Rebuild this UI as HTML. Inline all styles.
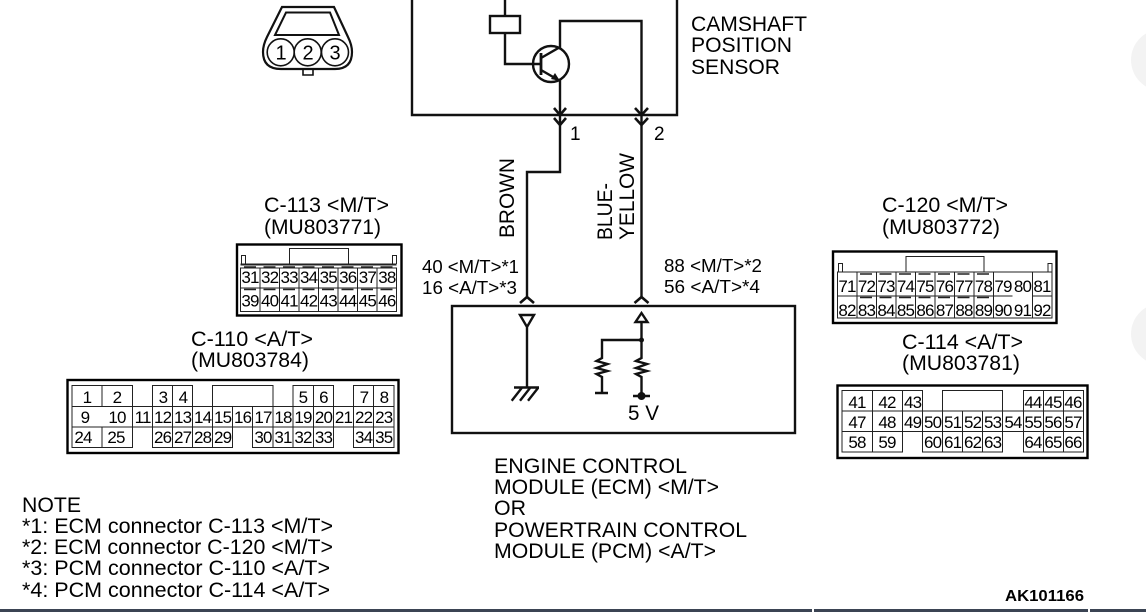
<!DOCTYPE html>
<html><head><meta charset="utf-8"><style>
html,body{margin:0;padding:0;background:#fff}
svg{display:block;position:absolute;left:0;top:0}
text{font-family:"Liberation Sans",sans-serif;fill:#000}
.c text{font-size:17px;text-anchor:middle;letter-spacing:-.8px}
.l{font-size:21px}
.m{font-size:18px}
</style></head><body style="width:1146px;height:612px;overflow:hidden;position:relative">
<svg width="1146" height="612" viewBox="0 0 1146 612">
<rect width="1146" height="612" fill="#fff"/>
<circle cx="1162" cy="60" r="31" fill="#f3f3f3"/>
<circle cx="1162" cy="334" r="31" fill="#f3f3f3"/>
<rect x="0" y="609" width="812" height="3" fill="#3b4453"/>
<rect x="814" y="609" width="274" height="3" fill="#3b4453"/>
<rect x="1090" y="609" width="56" height="3" fill="#3b4453"/>

<!-- sensor connector -->
<g fill="none" stroke="#111" stroke-width="1.6">
<path stroke-width="2.200" d="M282 7H334L348 37Q352 45 352 52Q352 69 335 69H281Q263 69 263 52Q263 45 267 37Z"/>
<path stroke-width="2" d="M286 12.500H330L339 35H275Z"/>
<circle cx="280.700" cy="52.300" r="13.500"/><circle cx="307.700" cy="52.300" r="13.500"/><circle cx="335" cy="52.300" r="13.500"/>
<path d="M303 69V75H313V69"/>
</g>
<g font-size="20" text-anchor="middle"><text x="281" y="59.500">1</text><text x="308" y="59.500">2</text><text x="335" y="59.500">3</text></g>

<!-- sensor box -->
<g fill="none" stroke="#111" stroke-width="2.400">
<path d="M412 0V115H677V0"/>
<rect x="490" y="16" width="30" height="17"/>
<path d="M505 0V16M505 33V64H541"/>
<circle cx="551" cy="64" r="18"/>
<path stroke-width="2.800" d="M541 53V75"/>
<path d="M541 58L560 47V21H641.500V298"/>
<path d="M541 70L560 81V172H527V298"/>
<path d="M554 108L560 115L566 108M554 118L560 125L566 118" stroke-width="2.600"/>
<path d="M635 108L641.500 115L648 108M635 118L641.500 125L648 118" stroke-width="2.600"/>
<path d="M520 303L527 297L534 303M634.500 303L641.500 297L648.500 303" stroke-width="2.600"/>
<rect x="452" y="306" width="343" height="127"/>
<path d="M520 315H534L527 327ZM527 327V387M514 387.500H539M521.700 388L511.700 400.700M530 388L520 400.700M538 388L528 400.700"/>
<path d="M641.500 313L647.500 322H635.500ZM641.500 322V358L636 361L647 364L636 368L647 371L636 374L641.500 377V396M641.500 340H602V358L596.500 361L607.500 364L596.500 368L607.500 371L596.500 374L602 377V393M595 393H608M633 396H650"/>
</g>
<path d="M560 81L551 79L555 73Z" fill="#111"/>
<circle cx="641.500" cy="340" r="2.500" fill="#111"/>
<circle cx="641.500" cy="396" r="4" fill="#111"/>

<!-- labels -->
<g class="l">
<text x="691" y="31" textLength="116" lengthAdjust="spacingAndGlyphs">CAMSHAFT</text>
<text x="691" y="52" textLength="101" lengthAdjust="spacingAndGlyphs">POSITION</text>
<text x="691" y="74" textLength="89" lengthAdjust="spacingAndGlyphs">SENSOR</text>
<text x="494" y="473" textLength="193" lengthAdjust="spacingAndGlyphs">ENGINE CONTROL</text>
<text x="494" y="494" textLength="225" lengthAdjust="spacingAndGlyphs">MODULE (ECM) &lt;M/T&gt;</text>
<text x="494" y="515" textLength="32" lengthAdjust="spacingAndGlyphs">OR</text>
<text x="494" y="537" textLength="253" lengthAdjust="spacingAndGlyphs">POWERTRAIN CONTROL</text>
<text x="494" y="558" textLength="222" lengthAdjust="spacingAndGlyphs">MODULE (PCM) &lt;A/T&gt;</text>
<text x="22" y="512" textLength="59" lengthAdjust="spacingAndGlyphs">NOTE</text>
<text x="22" y="533" textLength="311" lengthAdjust="spacingAndGlyphs">*1: ECM connector C-113 &lt;M/T&gt;</text>
<text x="22" y="554" textLength="311" lengthAdjust="spacingAndGlyphs">*2: ECM connector C-120 &lt;M/T&gt;</text>
<text x="22" y="575" textLength="308" lengthAdjust="spacingAndGlyphs">*3: PCM connector C-110 &lt;A/T&gt;</text>
<text x="22" y="597" textLength="308" lengthAdjust="spacingAndGlyphs">*4: PCM connector C-114 &lt;A/T&gt;</text>
<text x="264" y="212" textLength="125" lengthAdjust="spacingAndGlyphs">C-113 &lt;M/T&gt;</text>
<text x="264" y="234" textLength="117" lengthAdjust="spacingAndGlyphs">(MU803771)</text>
<text x="191" y="346" textLength="122" lengthAdjust="spacingAndGlyphs">C-110 &lt;A/T&gt;</text>
<text x="191" y="367" textLength="118" lengthAdjust="spacingAndGlyphs">(MU803784)</text>
<text x="882" y="212" textLength="126" lengthAdjust="spacingAndGlyphs">C-120 &lt;M/T&gt;</text>
<text x="882" y="234" textLength="118" lengthAdjust="spacingAndGlyphs">(MU803772)</text>
<text x="902" y="349" textLength="121" lengthAdjust="spacingAndGlyphs">C-114 &lt;A/T&gt;</text>
<text x="902" y="370" textLength="118" lengthAdjust="spacingAndGlyphs">(MU803781)</text>
<text x="628" y="420" textLength="31" lengthAdjust="spacingAndGlyphs">5 V</text>
<text transform="translate(514 238) rotate(-90)" textLength="80" lengthAdjust="spacingAndGlyphs">BROWN</text>
<text transform="translate(612 240) rotate(-90)" textLength="57" lengthAdjust="spacingAndGlyphs">BLUE-</text>
<text transform="translate(634 240) rotate(-90)" textLength="87" lengthAdjust="spacingAndGlyphs">YELLOW</text>
</g>
<g class="m">
<text x="570" y="140" font-size="19">1</text><text x="654" y="140" font-size="19">2</text>
<text x="422" y="273" textLength="97" lengthAdjust="spacingAndGlyphs">40 &lt;M/T&gt;*1</text>
<text x="422" y="294" textLength="95" lengthAdjust="spacingAndGlyphs">16 &lt;A/T&gt;*3</text>
<text x="664" y="272" textLength="98" lengthAdjust="spacingAndGlyphs">88 &lt;M/T&gt;*2</text>
<text x="664" y="293" textLength="96" lengthAdjust="spacingAndGlyphs">56 &lt;A/T&gt;*4</text>
</g>
<text x="1005" y="601" font-size="16" font-weight="bold" textLength="79" lengthAdjust="spacingAndGlyphs">AK101166</text>

<!-- C-113 -->
<g fill="none" stroke="#222">
<rect x="237" y="244.500" width="164.500" height="71" stroke-width="2.400" stroke="#000"/>
<path stroke-width="1" d="M240.500 311.500V268H396.500V311.500ZM240.500 288H396.500M260 268V311M279.500 268V311M299 268V311M318.500 268V311M338 268V311M357.500 268V311M377 268V311"/>
<path stroke-width="1" d="M289.500 264V248.500H348.500V264M241.500 264V255.500H245.500V264M392.500 264V255.500H396.500V264"/>
<path stroke-width="2" d="M240.500 264.500H396.500"/>
<path stroke-width="1.400" stroke-dasharray="12 7.500" d="M244 267H396M244 289.500H396"/>
</g>
<g class="c">
<text x="250" y="283">31</text><text x="269.600" y="283">32</text><text x="289.200" y="283">33</text><text x="308.700" y="283">34</text><text x="328.300" y="283">35</text><text x="347.800" y="283">36</text><text x="367.400" y="283">37</text><text x="386.900" y="283">38</text>
<text x="250" y="306.500">39</text><text x="269.600" y="306.500">40</text><text x="289.200" y="306.500">41</text><text x="308.700" y="306.500">42</text><text x="328.300" y="306.500">43</text><text x="347.800" y="306.500">44</text><text x="367.400" y="306.500">45</text><text x="386.900" y="306.500">46</text>
</g>

<!-- C-110 -->
<g fill="none" stroke="#222">
<rect x="67.500" y="380" width="331" height="73" stroke-width="2.400" stroke="#000"/>
<path stroke-width="1" d="M72 385.500H132.500V406.500H72ZM102 385.500V406.500M152.500 385.500H192.500V406.500H152.500ZM172.500 385.500V406.500M212.500 385.500H273V406.500H212.500ZM293 385.500H333.500V406.500H293ZM313.500 385.500V406.500M353.500 385.500H394V406.500H353.500ZM373.500 385.500V406.500"/>
<path stroke-width="1" d="M72 406.500H394V427H72ZM72 406.500V447.500H132.500V406.500M102 427V447.500M152.500 406.500V447.500H232.500V406.500M172.500 406.500V447.500M192.500 406.500V447.500M212.500 406.500V447.500M252.500 406.500V447.500H333.500V406.500M273 406.500V447.500M293 406.500V447.500M313.500 406.500V447.500M353.500 406.500V447.500H394V406.500M373.500 406.500V447.500"/>
</g>
<g class="c">
<text x="87" y="403">1</text><text x="117" y="403">2</text><text x="163" y="403">3</text><text x="183" y="403">4</text><text x="303" y="403">5</text><text x="323.500" y="403">6</text><text x="364" y="403">7</text><text x="384" y="403">8</text>
<text x="85" y="423">9</text><text x="117" y="423">10</text><text x="142.700" y="423">11</text><text x="162.700" y="423">12</text><text x="182.700" y="423">13</text><text x="202.700" y="423">14</text><text x="222.700" y="423">15</text><text x="242.700" y="423">16</text><text x="263" y="423">17</text><text x="283" y="423">18</text><text x="303" y="423">19</text><text x="323.500" y="423">20</text><text x="343.500" y="423">21</text><text x="363.700" y="423">22</text><text x="383.800" y="423">23</text>
<text x="83" y="443">24</text><text x="116" y="443">25</text><text x="162.700" y="443">26</text><text x="182.700" y="443">27</text><text x="202.700" y="443">28</text><text x="222.700" y="443">29</text><text x="263" y="443">30</text><text x="283" y="443">31</text><text x="303" y="443">32</text><text x="323.500" y="443">33</text><text x="363.700" y="443">34</text><text x="383.800" y="443">35</text>
</g>

<!-- C-120 -->
<g fill="none" stroke="#222">
<rect x="833" y="251.500" width="223.500" height="71.500" stroke-width="2.400" stroke="#000"/>
<path stroke-width="1" d="M837.500 318V272H1052V318ZM837.500 296H1012.500M1032.500 296H1052M857 272V318M876.500 272V318M896 272V318M915.500 272V318M935 272V318M954.500 272V318M974 272V318M993.500 272V318M1032.500 272V318"/>
<path stroke-width="1" d="M906 272V256.500H984V272M838.500 272V263.500H842.500V272M1048 272V263.500H1052V272"/>
<path stroke-width="1.400" stroke-dasharray="12 7.500" d="M860 274H993M860 297.500H993"/>
</g>
<g class="c">
<text x="847" y="292">71</text><text x="866.500" y="292">72</text><text x="886" y="292">73</text><text x="905.500" y="292">74</text><text x="925" y="292">75</text><text x="944.500" y="292">76</text><text x="964" y="292">77</text><text x="983.500" y="292">78</text><text x="1003" y="292">79</text><text x="1022.500" y="292">80</text><text x="1042" y="292">81</text>
<text x="847" y="316">82</text><text x="866.500" y="316">83</text><text x="886" y="316">84</text><text x="905.500" y="316">85</text><text x="925" y="316">86</text><text x="944.500" y="316">87</text><text x="964" y="316">88</text><text x="983.500" y="316">89</text><text x="1003" y="316">90</text><text x="1022.500" y="316">91</text><text x="1042" y="316">92</text>
</g>

<!-- C-114 -->
<g fill="none" stroke="#222">
<rect x="837.500" y="385.500" width="250" height="72.500" stroke-width="2.400" stroke="#000"/>
<path stroke-width="1" d="M842 390.500H922.500V411H842ZM872.500 390.500V411M902.500 390.500V411M942.500 390.500H1002.500V411H942.500ZM1023.500 390.500H1083.500V411H1023.500ZM1043.500 390.500V411M1063.500 390.500V411"/>
<path stroke-width="1" d="M842 411H1083.500V431.500H842ZM842 431.500V452H902.500V431.500M872.500 411V452M902.500 411V431.500M922.500 411V452H1002.500V431.500M942.500 411V452M962.500 411V452M982.500 411V452M1002.500 411V431.500M1023.500 411V452H1083.500V411M1043.500 411V452M1063.500 411V452"/>
</g>
<g class="c">
<text x="857" y="408">41</text><text x="887" y="408">42</text><text x="912.700" y="408">43</text><text x="1033" y="408">44</text><text x="1053" y="408">45</text><text x="1073" y="408">46</text>
<text x="857" y="428">47</text><text x="887" y="428">48</text><text x="912.700" y="428">49</text><text x="932.700" y="428">50</text><text x="952.700" y="428">51</text><text x="972.700" y="428">52</text><text x="992.700" y="428">53</text><text x="1013" y="428">54</text><text x="1033" y="428">55</text><text x="1053" y="428">56</text><text x="1073" y="428">57</text>
<text x="857" y="448">58</text><text x="887" y="448">59</text><text x="932.700" y="448">60</text><text x="952.700" y="448">61</text><text x="972.700" y="448">62</text><text x="992.700" y="448">63</text><text x="1033" y="448">64</text><text x="1053" y="448">65</text><text x="1073" y="448">66</text>
</g>
</svg>
</body></html>
